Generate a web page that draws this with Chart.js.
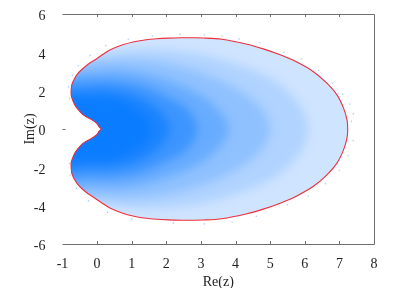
<!DOCTYPE html>
<html lang="en">
<head>
    <meta charset="UTF-8">
    <title>Re(z) / Im(z) point cloud</title>
    <script src="https://cdn.jsdelivr.net/npm/chart.js"></script>
    <style>
        body { margin: 0; background: #fff; }
        canvas { display: block; }
    </style>
</head>
<body>
    <canvas id="cloudChart" width="407" height="288"></canvas>

    <script>
        // red boundary curve
        const outlineRe = [0.13, 0.06, -0.01, -0.16, -0.30, -0.44, -0.54, -0.64, -0.71, -0.75, -0.75, -0.73, -0.67, -0.57, -0.45, -0.26, -0.06, 0.14, 0.37, 0.72, 1.07, 1.42, 1.73, 2.05, 2.43, 2.75, 3.06, 3.60, 4.33, 4.80, 5.29, 5.77, 6.25, 6.64, 6.93, 7.12, 7.22, 7.24,
            7.22, 7.12, 6.93, 6.64, 6.25, 5.77, 5.29, 4.80, 4.33, 3.60, 3.06, 2.75, 2.43, 2.05, 1.73, 1.42, 1.07, 0.72, 0.37, 0.14, -0.06, -0.26, -0.45, -0.57, -0.67, -0.73, -0.75, -0.75, -0.71, -0.64, -0.54, -0.44, -0.30, -0.16, -0.01, 0.06, 0.13];
        const outlineIm = [0, 0.11, 0.30, 0.49, 0.62, 0.80, 1.00, 1.24, 1.52, 1.76, 1.99, 2.31, 2.57, 2.86, 3.09, 3.38, 3.61, 3.86, 4.12, 4.38, 4.55, 4.66, 4.71, 4.74, 4.76, 4.76, 4.75, 4.68, 4.42, 4.18, 3.87, 3.49, 2.99, 2.39, 1.78, 1.09, 0.48, 0,
            -0.48, -1.09, -1.78, -2.39, -2.99, -3.49, -3.87, -4.18, -4.42, -4.68, -4.75, -4.76, -4.76, -4.74, -4.71, -4.66, -4.55, -4.38, -4.12, -3.86, -3.61, -3.38, -3.09, -2.86, -2.57, -2.31, -1.99, -1.76, -1.52, -1.24, -1.00, -0.80, -0.62, -0.49, -0.30, -0.11, 0];

        // density bands of the cloud, estimated by eye, sparse to solid.
        // each closes out left of the boundary, the outline clips them
        const band1Re = [-0.95, -0.1, 0.6, 1.6, 2.8, 4.0, 5.1, 5.8, 6.1, 5.8, 5.1, 4.0, 2.8, 1.6, 0.6, -0.1, -0.95, -0.95];
        const band1Im = [3.85, 3.85, 4.05, 4.15, 3.95, 3.40, 2.55, 1.40, 0, -1.40, -2.55, -3.40, -3.95, -4.15, -4.05, -3.85, -3.85, 3.85];
        const band2Re = [-0.95, 0.1, 0.9, 1.9, 2.9, 3.9, 4.7, 5.0, 4.7, 3.9, 2.9, 1.9, 0.9, 0.1, -0.95, -0.95];
        const band2Im = [3.40, 3.55, 3.60, 3.45, 3.00, 2.25, 1.20, 0, -1.20, -2.25, -3.00, -3.45, -3.60, -3.55, -3.40, 3.40];
        const band3Re = [-0.95, -0.1, 0.6, 1.4, 2.3, 3.1, 3.6, 3.8, 3.6, 3.1, 2.3, 1.4, 0.6, -0.1, -0.95, -0.95];
        const band3Im = [2.85, 3.00, 3.05, 2.85, 2.35, 1.65, 0.80, 0, -0.80, -1.65, -2.35, -2.85, -3.05, -3.00, -2.85, 2.85];
        const band4Re = [-0.95, -0.2, 0.5, 1.3, 2.0, 2.6, 2.9, 2.6, 2.0, 1.3, 0.5, -0.2, -0.95, -0.95];
        const band4Im = [2.40, 2.50, 2.50, 2.25, 1.70, 1.05, 0, -1.05, -1.70, -2.25, -2.50, -2.50, -2.40, 2.40];
        const band5Re = [-0.95, -0.3, 0.4, 1.1, 1.6, 1.95, 2.1, 1.95, 1.6, 1.1, 0.4, -0.3, -0.95, -0.95];
        const band5Im = [2.00, 2.00, 2.00, 1.72, 1.25, 0.65, 0, -0.65, -1.25, -1.72, -2.00, -2.00, -2.00, 2.00];
        const band6Re = [-0.95, -0.4, 0.1, 0.6, 1.05, 1.4, 1.55, 1.4, 1.05, 0.6, 0.1, -0.4, -0.95, -0.95];
        const band6Im = [1.60, 1.60, 1.60, 1.50, 1.10, 0.62, 0, -0.62, -1.10, -1.50, -1.60, -1.60, -1.60, 1.60];
        const bandColors = ['#b0d3ff', '#8fc1ff', '#68acff', '#3d95ff', '#1b84ff', '#0a7cff'];

        // stray dots just outside the boundary
        const strayRe = [-0.82, -0.80, -0.72, -0.55, -0.20, 0.25, 0.90, 1.60, 2.40, 3.10, 3.60, 4.10, 4.70, 5.40, 5.90, 6.40, 6.80, 7.10, 7.30, 7.40, 7.35,
            -0.80, -0.78, -0.60, -0.25, 0.30, 1.00, 2.20, 3.10, 3.90, 4.60, 5.50, 6.10, 6.60, 7.00, 7.25, 7.40];
        const strayIm = [2.20, 1.60, 2.80, 3.30, 3.85, 4.35, 4.68, 4.85, 4.95, 4.90, 4.85, 4.70, 4.50, 4.00, 3.65, 3.05, 2.40, 1.80, 1.30, 0.80, 0.40,
            -1.80, -2.40, -3.10, -3.75, -4.35, -4.70, -4.90, -4.95, -4.85, -4.55, -3.95, -3.50, -2.85, -2.15, -1.40, -0.60];

        const xTicks = [-1, 0, 1, 2, 3, 4, 5, 6, 7, 8];
        const yTicks = [-6, -4, -2, 0, 2, 4, 6];

        const toPoints = (xs, ys) => xs.map((x, i) => ({ x: x, y: ys[i] }));

        function bandDataset(xs, ys) {
            return {
                data: toPoints(xs, ys),
                showLine: true,
                fill: false,
                borderColor: 'transparent',
                borderWidth: 0,
                pointRadius: 0,
                tension: 0.3,
                order: 5
            };
        }

        // paints the bands from the library's line elements, softened so the
        // steps read as a falling density, and kept inside the red boundary
        const cloudPlugin = {
            id: 'cloud',
            beforeDatasetsDraw(chart) {
                const ctx = chart.ctx;
                const outline = chart.getDatasetMeta(0).dataset;
                ctx.save();
                ctx.beginPath();
                outline.path(ctx);
                ctx.clip();
                ctx.fillStyle = '#cfe4ff';
                ctx.fillRect(0, 0, chart.width, chart.height);
                ctx.filter = 'blur(5px)';
                bandColors.forEach((color, i) => {
                    ctx.fillStyle = color;
                    ctx.beginPath();
                    chart.getDatasetMeta(i + 2).dataset.path(ctx);
                    ctx.fill();
                });
                ctx.restore();
            }
        };

        // gnuplot style frame: top, bottom and right lines, ticks pointing inward
        const framePlugin = {
            id: 'frame',
            afterDraw(chart) {
                const { ctx, chartArea: a, scales } = chart;
                ctx.save();
                ctx.strokeStyle = '#6e6e6e';
                ctx.lineWidth = 1;
                ctx.beginPath();
                ctx.moveTo(a.left, a.top + 0.5);
                ctx.lineTo(a.right + 0.5, a.top + 0.5);
                ctx.lineTo(a.right + 0.5, a.bottom + 0.5);
                ctx.lineTo(a.left, a.bottom + 0.5);
                xTicks.slice(1, -1).forEach(v => {
                    const px = Math.round(scales.x.getPixelForValue(v)) + 0.5;
                    ctx.moveTo(px, a.top);
                    ctx.lineTo(px, a.top + 3);
                    ctx.moveTo(px, a.bottom);
                    ctx.lineTo(px, a.bottom - 3);
                });
                const zero = Math.round(scales.y.getPixelForValue(0)) + 0.5;
                ctx.moveTo(a.left, zero);
                ctx.lineTo(a.left + 3, zero);
                ctx.stroke();
                ctx.restore();
            }
        };

        new Chart(document.getElementById('cloudChart'), {
            type: 'scatter',
            plugins: [cloudPlugin, framePlugin],
            data: {
                datasets: [
                    {
                        data: toPoints(outlineRe, outlineIm),
                        showLine: true,
                        fill: false,
                        borderColor: '#ee2f3c',
                        borderWidth: 1.1,
                        pointRadius: 0,
                        tension: 0.3,
                        order: 0
                    },
                    {
                        data: toPoints(strayRe, strayIm),
                        backgroundColor: '#a9d0ff',
                        borderWidth: 0,
                        pointRadius: 0.8,
                        order: 1
                    },
                    bandDataset(band1Re, band1Im),
                    bandDataset(band2Re, band2Im),
                    bandDataset(band3Re, band3Im),
                    bandDataset(band4Re, band4Im),
                    bandDataset(band5Re, band5Im),
                    bandDataset(band6Re, band6Im)
                ]
            },
            options: {
                responsive: false,
                animation: false,
                layout: { padding: { left: 18, top: 14, right: 33, bottom: 0 } },
                plugins: { legend: { display: false }, tooltip: { enabled: false } },
                scales: {
                    x: {
                        type: 'linear',
                        min: -1,
                        max: 8,
                        afterBuildTicks: scale => { scale.ticks = xTicks.map(v => ({ value: v })); },
                        afterFit: scale => {
                            scale.height = 44;
                            scale.paddingLeft = 0;
                            scale.paddingRight = 0;
                        },
                        grid: { display: false },
                        border: { display: false },
                        ticks: {
                            color: '#222',
                            padding: 4,
                            maxRotation: 0,
                            font: { family: '"Liberation Serif"', size: 14 }
                        },
                        title: {
                            display: true,
                            text: 'Re(z)',
                            color: '#222',
                            padding: { top: 0, bottom: -3 },
                            font: { family: '"Liberation Serif"', size: 14 }
                        }
                    },
                    y: {
                        min: -6,
                        max: 6,
                        afterBuildTicks: scale => { scale.ticks = yTicks.map(v => ({ value: v })); },
                        afterFit: scale => {
                            scale.width = 44.5;
                            scale.paddingTop = 0;
                            scale.paddingBottom = 0;
                        },
                        grid: { display: false },
                        border: { display: false },
                        ticks: {
                            color: '#222',
                            padding: 9,
                            labelOffset: 2.5,
                            font: { family: '"Liberation Serif"', size: 14 }
                        },
                        title: {
                            display: true,
                            text: 'Im(z)',
                            color: '#222',
                            padding: { top: 4, bottom: 0 },
                            font: { family: '"Liberation Serif"', size: 14 }
                        }
                    }
                }
            }
        });
    </script>
</body>
</html>
